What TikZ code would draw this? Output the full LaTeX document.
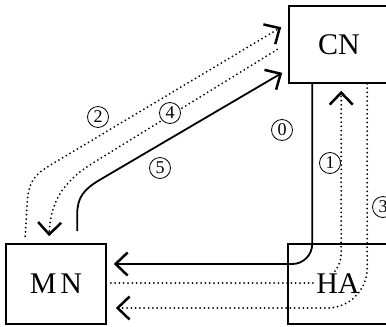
\documentclass[tikz,border=0pt]{standalone}
\usepackage{fontspec}
\setmainfont{Liberation Serif}
\usetikzlibrary{arrows.meta,calc}
\begin{document}
\begin{tikzpicture}[x=1pt,y=-1pt,
  box/.style={draw,line width=1.6pt,minimum width=100pt,inner sep=0pt,font=\fontsize{30}{32}\selectfont},
  txt/.style={font=\fontsize{30}{32}\selectfont,inner sep=1pt},
  num/.style={circle,draw,line width=0.8pt,minimum size=21pt,inner sep=0pt,font=\fontsize{18}{18}\selectfont},
  tip/.style={-{Straight Barb[length=12pt,width=23pt,line width=2.5pt]}},
  solidline/.style={line width=1.8pt},
  dotline/.style={line width=2pt,line cap=round,dash pattern=on 0pt off 4.3pt},
]
\clip (0,0) rectangle (386,327);
\node[box,minimum height=77pt] (cn) at (339,44.5) {CN};
\node[box,minimum height=80pt] (mn) at (56,284) {M\kern4pt N};
\node[box,minimum height=80pt] (ha) at (338,284) {};
% 0
\draw[solidline,tip,rounded corners=20pt] ($(cn.south west)+(24,0)$) |- ($(mn.east)+(7,-20)$);
% 1
\draw[dotline,tip,rounded corners=30pt] ($(mn.east)+(4,-1)$) -| ($(cn.south west)+(53,7)$);
\node[txt,fill=white] (hat) at (ha.center) {HA};
% 3
\draw[dotline,tip,rounded corners=40pt] ($(cn.south west)+(79,0)$) |- ($(mn.east)+(9,24)$);
% 2
\draw[dotline,tip] ($(mn.north west)+(20,-7)$) -- ($(mn.north west)+(22,-40)$)
  .. controls ($(mn.north west)+(23,-62)$) and ($(mn.north west)+(30,-69)$) .. ($(mn.north west)+(45,-78)$)
  -- ($(cn.north west)+(-7,22)$);
% 4
\draw[dotline,tip] ($(cn.west)+(-11,5)$) -- ($(mn.north west)+(89,-81)$)
  .. controls ($(mn.north west)+(56,-61)$) and ($(mn.north west)+(45,-39)$) .. ($(mn.north west)+(44,-7)$);
% 5
\draw[solidline,tip] ($(mn.north west)+(72,-12)$) -- ($(mn.north west)+(72,-29)$)
  .. controls ($(mn.north west)+(72,-46)$) and ($(mn.north west)+(79,-54)$) .. ($(mn.north west)+(94,-63)$)
  -- ($(cn.south west)+(-6,-11)$);
\node[num] (l0) at (282,130) {0};
\node[num] (l1) at (330,163) {1};
\node[num] (l2) at (98,117) {2};
\node[num] (l3) at (383,207) {3};
\node[num,fill=white] (l4) at (170,113) {4};
\node[num] (l5) at (160,168) {5};
\end{tikzpicture}
\end{document}
